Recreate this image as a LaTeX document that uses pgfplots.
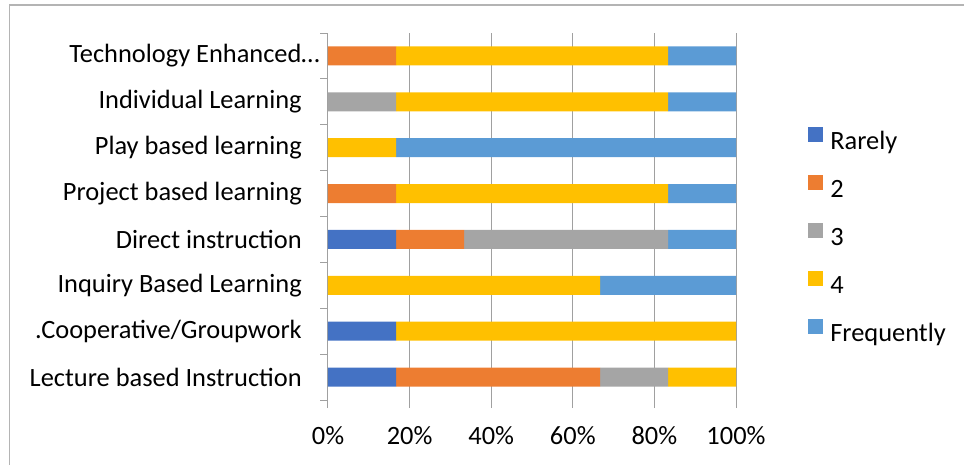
\documentclass[border=0pt]{standalone}
\usepackage{fontspec}
\setmainfont{Carlito}
\usepackage{pgfplots}
\usepackage{pgfplotstable}
\pgfplotsset{compat=1.18}

\definecolor{cRarely}{HTML}{4472C4}
\definecolor{cTwo}{HTML}{ED7D31}
\definecolor{cThree}{HTML}{A5A5A5}
\definecolor{cFour}{HTML}{FFC000}
\definecolor{cFreq}{HTML}{5B9BD5}
\definecolor{gridgray}{HTML}{A0A0A0}
\definecolor{framegray}{HTML}{B4B4B4}

% share of answers (percent) per teaching method, bottom row first
\pgfplotstableread{
idx rarely two   three four  freq
0   16.667 50    16.667 16.667 0
1   16.667 0     0      83.333 0
2   0      0     0      66.667 33.333
3   16.667 16.667 50    0      16.667
4   0      16.667 0     66.667 16.667
5   0      0     0      16.667 83.333
6   0      0     16.667 66.667 16.667
7   0      16.667 0     66.667 16.667
}\methods

\begin{document}
\begin{tikzpicture}
\path[use as bounding box] (0pt,0pt) rectangle (723pt,348.75pt);
\draw[framegray, line width=1.1pt] (7.1pt,0pt) -- (7.1pt,345pt) -- (723pt,345pt);
\begin{axis}[
  at={(246pt,48.75pt)}, anchor=south west,
  scale only axis, width=306pt, height=275.25pt,
  xbar stacked, bar width=14.25pt,
  xmin=0, xmax=100, ymin=-0.5, ymax=7.5,
  font=\fontsize{19.8}{24}\selectfont,
  axis line style={draw=none},
  xtick={0,20,40,60,80,100},
  xticklabels={0\%,20\%,40\%,60\%,80\%,100\%},
  xtick pos=bottom, ytick pos=left,
  tick align=outside,
  major tick length=6pt, minor tick length=6pt,
  xtick style={gridgray, line width=0.75pt},
  xmajorgrids, major grid style={gridgray, line width=0.75pt},
  ytick={0,...,7},
  yticklabels={{Lecture based Instruction},{.Cooperative/Groupwork},{Inquiry Based Learning},{Direct instruction},{Project based learning},{Play based learning},{Individual Learning},{Technology Enhanced…\kern-13.5pt}},
  major y tick style={draw=none},
  minor ytick={-0.5,0.5,...,7.5},
  minor y tick style={gridgray, line width=0.75pt},
  yticklabel style={inner sep=0pt, xshift=-13.5pt},
  xticklabel style={inner sep=0pt, yshift=-13.5pt},
  legend cell align=left,
  legend style={at={(1.1765,0.7439)}, anchor=north west, draw=none, fill=none,
    inner sep=0pt, row sep=14.6pt, column sep=5.25pt,
    nodes={inner sep=0pt, text height=15pt, text depth=4.5pt},
    font=\fontsize{19.8}{24}\selectfont},
  legend image code/.code={\fill[#1] (0pt,0.4pt) rectangle (11.25pt,11.65pt);},
]
\addplot[fill=cRarely, draw=none] table[x=rarely, y=idx] {\methods};
\addplot[fill=cTwo,    draw=none] table[x=two,    y=idx] {\methods};
\addplot[fill=cThree,  draw=none] table[x=three,  y=idx] {\methods};
\addplot[fill=cFour,   draw=none] table[x=four,   y=idx] {\methods};
\addplot[fill=cFreq,   draw=none] table[x=freq,   y=idx] {\methods};
\legend{Rarely,2,3,4,Frequently}
\draw[gridgray, line width=0.75pt] (axis cs:0,-0.5) -- (axis cs:0,7.5);
\end{axis}
\end{tikzpicture}
\end{document}
